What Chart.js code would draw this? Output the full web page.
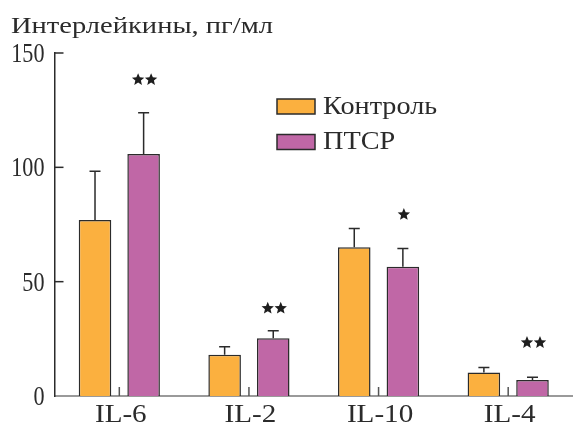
<!DOCTYPE html>
<html>
<head>
<meta charset="utf-8">
<script src="https://cdn.jsdelivr.net/npm/chart.js@4"></script>
<style>
  html, body { margin: 0; padding: 0; background: #fff; }
  #wrap { width: 573px; height: 424px; }
</style>
</head>
<body>
<div id="wrap"><canvas id="chart" width="573" height="424"></canvas></div>
<script>
// data
const categories = ['IL-6', 'IL-2', 'IL-10', 'IL-4'];
const control = [77, 18, 65, 10.3];
const controlErr = [21.3, 3.5, 8.3, 2.2];
const ptsr = [105.8, 25.3, 56.5, 7.0];
const ptsrErr = [18.1, 3.2, 8.0, 1.2];
const stars = [2, 2, 1, 2]; // number of significance stars over PTSR bars
const starLevel = [139, 39, 80, 24];
const yTicks = [0, 50, 100, 150];

const serif = '"Liberation Serif", "Times New Roman", serif';
const ink = '#2b2b2b';

// the journal font is wider for letters and narrower for digits, so stretch text a bit
function stretchText(ctx, text, x, y, size, sx, align) {
    ctx.save();
    ctx.font = size + 'px ' + serif;
    ctx.textAlign = align;
    ctx.textBaseline = 'alphabetic';
    ctx.translate(x, y);
    ctx.scale(sx, 1);
    ctx.fillText(text, 0, 0);
    ctx.restore();
}

// small filled five-point star
function starShape(ctx, cx, cy, r) {
    ctx.beginPath();
    for (let k = 0; k < 10; k++) {
        const rad = k % 2 === 0 ? r : r * 0.45;
        const a = -Math.PI / 2 + k * Math.PI / 5;
        const px = cx + rad * Math.cos(a), py = cy + rad * Math.sin(a);
        if (k === 0) ctx.moveTo(px, py); else ctx.lineTo(px, py);
    }
    ctx.closePath();
    ctx.fill();
}

// error bars, stars, tick marks, labels, title and legend
const decorations = {
    id: 'decorations',
    afterDatasetsDraw(chart) {
        const ctx = chart.ctx;
        const x = chart.scales.x, y = chart.scales.y;
        const area = chart.chartArea;
        ctx.save();

        // error whiskers
        ctx.strokeStyle = ink;
        ctx.lineWidth = 1.5;
        [controlErr, ptsrErr].forEach((errs, di) => {
            const meta = chart.getDatasetMeta(di);
            meta.data.forEach((bar, i) => {
                const top = y.getPixelForValue(chart.data.datasets[di].data[i] + errs[i]);
                ctx.beginPath();
                ctx.moveTo(bar.x, bar.y);
                ctx.lineTo(bar.x, top);
                ctx.moveTo(bar.x - 5.5, top);
                ctx.lineTo(bar.x + 5.5, top);
                ctx.stroke();
            });
        });

        // significance stars over the PTSR bars
        ctx.fillStyle = '#1e1e1e';
        const pm = chart.getDatasetMeta(1);
        stars.forEach((n, i) => {
            const cy = y.getPixelForValue(starLevel[i]) + 1.5;
            for (let k = 0; k < n; k++) {
                starShape(ctx, pm.data[i].x + 1 + (k - (n - 1) / 2) * 13, cy, 6.5);
            }
        });

        // y tick marks pointing inward, with labels
        ctx.strokeStyle = ink;
        ctx.lineWidth = 1.5;
        ctx.fillStyle = ink;
        yTicks.forEach(v => {
            const py = y.getPixelForValue(v);
            if (v > 0) {
                ctx.beginPath();
                ctx.moveTo(area.left, py);
                ctx.lineTo(area.left + 9, py);
                ctx.stroke();
            }
            stretchText(ctx, String(v), 44.5, py + 9, 27, 0.82, 'right');
        });

        // small category marks and labels on the x axis
        ctx.strokeStyle = '#555';
        categories.forEach((c, i) => {
            const px = x.getPixelForValue(i);
            ctx.beginPath();
            ctx.moveTo(px, area.bottom);
            ctx.lineTo(px, area.bottom - 9);
            ctx.stroke();
            stretchText(ctx, c, px + 1.5, 422, 26, 1.12, 'center');
        });

        // axis title
        stretchText(ctx, 'Интерлейкины, пг/мл', 11, 32.5, 23, 1.24, 'left');

        // legend
        chart.data.datasets.forEach((ds, i) => {
            const ly = 99 + i * 35.5;
            ctx.fillStyle = ds.backgroundColor;
            ctx.fillRect(277, ly, 38, 15);
            ctx.strokeStyle = ink;
            ctx.lineWidth = 1.5;
            ctx.strokeRect(277, ly, 38, 15);
            ctx.fillStyle = ink;
            stretchText(ctx, ds.label, 323, ly + 14.5, 25, 1.13, 'left');
        });
        ctx.restore();
    }
};

new Chart(document.getElementById('chart'), {
    type: 'bar',
    data: {
        labels: categories,
        datasets: [
            {
                label: 'Контроль',
                data: control,
                backgroundColor: '#fbb03f',
                borderColor: ink,
                borderWidth: 1.5,
                borderSkipped: 'bottom'
            },
            {
                label: 'ПТСР',
                data: ptsr,
                backgroundColor: '#c067a6',
                borderColor: ink,
                borderWidth: 1.5,
                borderSkipped: 'bottom'
            }
        ]
    },
    options: {
        responsive: false,
        animation: false,
        categoryPercentage: 0.75,
        barPercentage: 0.67,
        layout: { padding: { top: 53, right: 0, left: 0, bottom: 0 } },
        plugins: {
            legend: { display: false },
            tooltip: { enabled: false }
        },
        scales: {
            x: {
                grid: { display: false },
                border: { display: true, color: '#9a9a9a', width: 2 },
                ticks: { display: false },
                afterFit(scale) { scale.height = 28; }
            },
            y: {
                min: 0,
                max: 150,
                grid: { display: false },
                border: { display: true, color: ink, width: 1.5 },
                ticks: { display: false },
                afterBuildTicks(scale) {
                    scale.ticks = yTicks.map(v => ({ value: v }));
                },
                afterFit(scale) { scale.width = 54.5; }
            }
        }
    },
    plugins: [decorations]
});
</script>
</body>
</html>
